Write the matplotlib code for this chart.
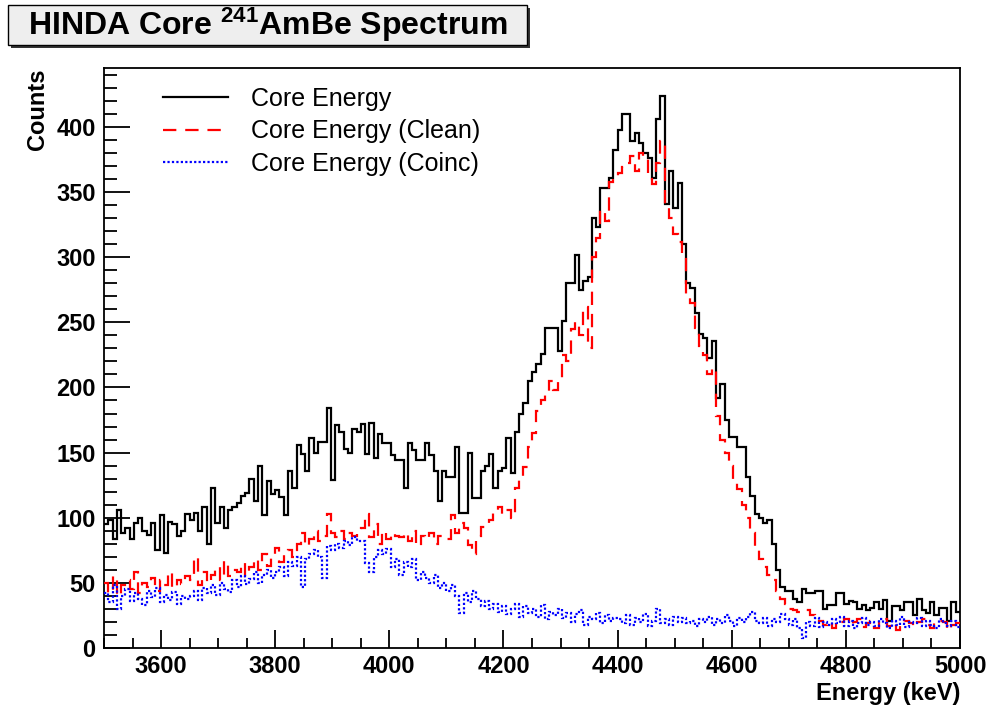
"""
HINDA core spectrum from the 241AmBe source: raw, clean and coincidence-gated energy histograms
"""

import numpy as np
import matplotlib.pyplot as plt
from matplotlib.patches import Rectangle
from matplotlib.ticker import MultipleLocator

plt.rcParams['font.family'] = ['Liberation Sans', 'DejaVu Sans']
plt.rcParams['mathtext.default'] = 'regular'

# Histogram binning (keV)
e_min, e_max, n_bins = 3500, 5000, 200

# Counts per 7.5 keV bin
core_energy = [
    95, 98, 84, 106, 88, 92, 84, 96, 100, 90, 87, 96, 75, 102, 73, 97, 95, 86, 90, 103,
    98, 104, 90, 108, 80, 123, 96, 108, 92, 106, 108, 111, 117, 119, 130, 113, 140, 102, 128, 118,
    121, 116, 102, 136, 123, 156, 149, 136, 161, 150, 158, 158, 184, 129, 171, 166, 153, 150, 168, 166,
    172, 149, 173, 146, 164, 157, 157, 148, 144, 144, 123, 157, 152, 144, 144, 157, 148, 136, 113, 136,
    131, 131, 154, 104, 104, 150, 115, 115, 136, 140, 149, 123, 136, 138, 161, 134, 166, 180, 188, 205,
    212, 218, 226, 246, 246, 246, 228, 251, 280, 280, 302, 275, 282, 285, 330, 323, 353, 353, 361, 382,
    398, 410, 410, 389, 395, 388, 380, 376, 361, 406, 424, 341, 366, 338, 357, 310, 280, 276, 257, 241,
    238, 223, 236, 192, 203, 175, 162, 162, 154, 154, 131, 117, 103, 100, 96, 98, 80, 60, 47, 44,
    44, 38, 35, 45, 42, 42, 44, 44, 30, 33, 33, 42, 42, 34, 36, 35, 30, 33, 29, 31,
    35, 30, 37, 21, 32, 32, 29, 35, 35, 25, 38, 29, 27, 35, 25, 31, 31, 21, 35, 28,
]

core_clean = [
    50, 42, 55, 40, 48, 52, 45, 58, 42, 50, 47, 54, 44, 52, 48, 58, 46, 52, 49, 55,
    52, 70, 48, 58, 50, 56, 62, 52, 67, 55, 60, 58, 65, 55, 62, 68, 60, 72, 63, 70,
    77, 66, 72, 75, 70, 80, 88, 78, 84, 90, 82, 86, 103, 88, 85, 90, 84, 88, 86, 90,
    92, 103, 85, 95, 80, 90, 84, 88, 86, 85, 88, 82, 90, 78, 86, 84, 88, 80, 86, 84,
    84, 102, 88, 96, 92, 79, 72, 86, 93, 96, 98, 104, 108, 103, 106, 100, 123, 131, 139, 154,
    165, 182, 190, 196, 205, 198, 206, 225, 220, 245, 250, 240, 262, 230, 300, 315, 336, 328, 358, 360,
    365, 369, 372, 378, 366, 380, 375, 360, 356, 372, 389, 340, 330, 318, 312, 300, 270, 265, 246, 232,
    225, 210, 215, 178, 160, 150, 140, 128, 122, 110, 100, 88, 75, 68, 62, 56, 52, 44, 38, 34,
    30, 29, 28, 28, 29, 25, 22, 21, 18, 20, 15, 21, 20, 22, 18, 20, 22, 16, 19, 21,
    15, 20, 22, 17, 19, 14, 18, 21, 19, 16, 20, 22, 18, 15, 19, 21, 20, 14, 18, 19,
]

core_coinc = [
    42, 35, 48, 30, 40, 45, 36, 42, 38, 33, 44, 39, 46, 35, 41, 37, 43, 34, 40, 38,
    40, 44, 37, 46, 42, 48, 41, 50, 45, 43, 52, 47, 55, 49, 53, 58, 50, 56, 60, 54,
    58, 62, 55, 66, 63, 70, 47, 68, 72, 75, 70, 54, 78, 75, 80, 77, 82, 79, 85, 82,
    82, 65, 58, 70, 75, 72, 76, 62, 68, 56, 66, 62, 68, 52, 58, 54, 50, 56, 46, 50,
    44, 48, 40, 27, 42, 35, 44, 38, 32, 36, 30, 34, 28, 32, 26, 30, 34, 24, 32, 27,
    30, 24, 33, 22, 28, 25, 30, 23, 27, 20, 26, 29, 18, 24, 22, 27, 19, 25, 21, 23,
    22, 19, 25, 18, 23, 20, 26, 17, 21, 30, 19, 22, 18, 24, 20, 23, 19, 21, 17, 22,
    20, 24, 18, 22, 19, 25, 21, 17, 23, 20, 24, 28, 21, 19, 23, 17, 22, 20, 26, 22,
    18, 22, 15, 8, 20, 17, 23, 16, 20, 18, 22, 19, 24, 17, 21, 15, 19, 23, 18, 20,
    17, 22, 19, 15, 21, 18, 24, 16, 20, 19, 23, 17, 21, 18, 15, 22, 19, 17, 21, 16,
]

edges = np.linspace(e_min, e_max, n_bins + 1)

fig = plt.figure(figsize=(9.93, 7.19), dpi=100)
fig.patch.set_facecolor('white')
ax = fig.add_axes([0.1047, 0.0987, 0.8621, 0.8067])

# baseline=None: no vertical drop to zero at the histogram ends
ax.stairs(core_energy, edges, baseline=None, color='black', linewidth=1.6,
          label='Core Energy', zorder=3)
ax.stairs(core_clean, edges, baseline=None, color='red', linewidth=1.6,
          linestyle=(0, (6, 4)), label='Core Energy (Clean)', zorder=4)
ax.stairs(core_coinc, edges, baseline=None, color='blue', linewidth=1.6,
          linestyle=(0, (1, 1)), label='Core Energy (Coinc)', zorder=5)

ax.set_xlim(e_min, e_max)
ax.set_ylim(0, 1.05 * max(core_energy))

# ROOT-like ticks: inside, only on the left and bottom axes
ax.xaxis.set_major_locator(MultipleLocator(200))
ax.xaxis.set_minor_locator(MultipleLocator(50))
ax.yaxis.set_major_locator(MultipleLocator(50))
ax.yaxis.set_minor_locator(MultipleLocator(10))
ax.tick_params(which='both', direction='in', top=False, right=False, width=1.3)
ax.tick_params(axis='x', which='major', length=13, pad=5)
ax.tick_params(axis='x', which='minor', length=7)
ax.tick_params(axis='y', which='major', length=19, pad=6)
ax.tick_params(axis='y', which='minor', length=9)
for lbl in ax.get_xticklabels() + ax.get_yticklabels():
    lbl.set_fontsize(17)
    lbl.set_fontweight('bold')
for sp in ax.spines.values():
    sp.set_linewidth(1.3)

fig.text(0.038, 0.9054, 'Counts', rotation=90, ha='center', va='top',
         fontsize=17, fontweight='bold')
fig.text(0.9668, 0.036, 'Energy (keV)', ha='right', va='center',
         fontsize=17, fontweight='bold')

ax.legend(loc='upper left', bbox_to_anchor=(0.069, 0.968), frameon=False,
          fontsize=18, handlelength=2.6, handletextpad=0.9, labelspacing=0.35,
          borderpad=0, borderaxespad=0)

# Title box with drop shadow
fig.patches.append(Rectangle((0.0111, 0.9333), 0.5227, 0.0556, transform=fig.transFigure,
                             facecolor='#333333', edgecolor='none', zorder=1))
fig.patches.append(Rectangle((0.0081, 0.9374), 0.5227, 0.0556, transform=fig.transFigure,
                             facecolor='#eeeeee', edgecolor='black', linewidth=1, zorder=2))
fig.text(0.2694, 0.9652, r'HINDA Core $^{241}$AmBe Spectrum', ha='center', va='center',
         fontsize=23, fontweight='bold', zorder=3)

plt.savefig('out.png', dpi=100)
plt.close()
